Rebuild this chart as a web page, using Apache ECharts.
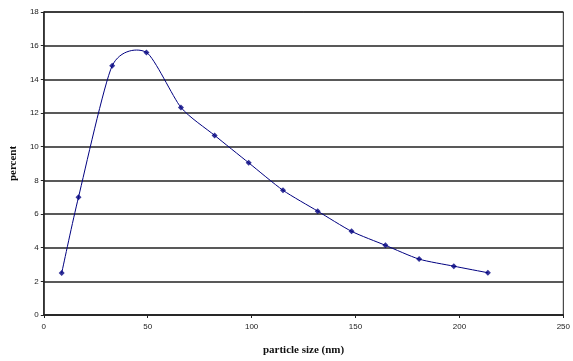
<!DOCTYPE html>
<html><head><meta charset="utf-8">
<script src="https://cdn.jsdelivr.net/npm/echarts@6/dist/echarts.min.js"></script>
<style>html,body{margin:0;padding:0;background:#fff}#c{width:573px;height:361px}</style>
</head><body><div id="c"></div>
<script>
var sizes = [8.6, 16.7, 32.9, 49.4, 66.0, 82.2, 98.6, 115.1, 131.8, 148.1, 164.4, 180.6, 197.3, 213.7];
var percents = [2.49, 7.0, 14.8, 15.6, 12.33, 10.67, 9.04, 7.41, 6.17, 4.97, 4.14, 3.32, 2.90, 2.51];
var xTicks = [0, 50, 100, 150, 200, 250];
var yTicks = [0, 2, 4, 6, 8, 10, 12, 14, 16, 18];
var data = sizes.map(function (s, i) { return [s, percents[i]]; });
var K = 0.115; // curve tension for the smoothed connecting line
var chart = echarts.init(document.getElementById('c'), null, {renderer: 'canvas'});
var labelStyle = {fontFamily: 'Liberation Sans, Arial', fontSize: 8, color: '#222'};
function renderSeg(params, api) {
  var i = params.dataIndex, n = data.length;
  if (i >= n - 1) return null;
  var p = function (j) { j = Math.max(0, Math.min(n - 1, j)); return api.coord(data[j]); };
  var a = p(i - 1), b = p(i), c = p(i + 1), d = p(i + 2);
  return {
    type: 'bezierCurve',
    shape: {
      x1: b[0], y1: b[1], x2: c[0], y2: c[1],
      cpx1: b[0] + (c[0] - a[0]) * K, cpy1: b[1] + (c[1] - a[1]) * K,
      cpx2: c[0] - (d[0] - b[0]) * K, cpy2: c[1] - (d[1] - b[1]) * K
    },
    style: {stroke: '#000080', fill: null, lineWidth: 1}
  };
}
chart.setOption({
  animation: false,
  grid: {left: 42, right: 6, top: 12, bottom: 43.5, show: true, borderColor: '#222', borderWidth: 1},
  xAxis: {
    type: 'value', min: xTicks[0], max: xTicks[xTicks.length - 1], interval: 50,
    name: 'particle size (nm)', nameLocation: 'middle', nameGap: 30,
    nameTextStyle: {fontFamily: 'Liberation Serif, Times New Roman', fontWeight: 'bold', fontSize: 11, color: '#111'},
    axisLine: {lineStyle: {color: '#222', width: 1.5}},
    axisTick: {show: true, inside: false, length: 3, lineStyle: {color: '#222'}},
    axisLabel: Object.assign({margin: 8}, labelStyle),
    splitLine: {show: false}
  },
  yAxis: {
    type: 'value', min: yTicks[0], max: yTicks[yTicks.length - 1], interval: 2,
    name: 'percent', nameLocation: 'middle', nameGap: 21, nameRotate: 90,
    nameTextStyle: {fontFamily: 'Liberation Serif, Times New Roman', fontWeight: 'bold', fontSize: 11, color: '#111'},
    axisLine: {show: true, lineStyle: {color: '#222', width: 1.5}},
    axisTick: {show: true, inside: false, length: 3, lineStyle: {color: '#222'}},
    axisLabel: Object.assign({margin: 5}, labelStyle),
    splitLine: {show: true, lineStyle: {color: '#222', width: 1.5}}
  },
  series: [{
    type: 'custom', data: data, renderItem: renderSeg, z: 2, silent: true
  }, {
    type: 'scatter', data: data, symbol: 'diamond', symbolSize: 6, z: 3,
    itemStyle: {color: '#000080'}
  }]
});
</script></body></html>
